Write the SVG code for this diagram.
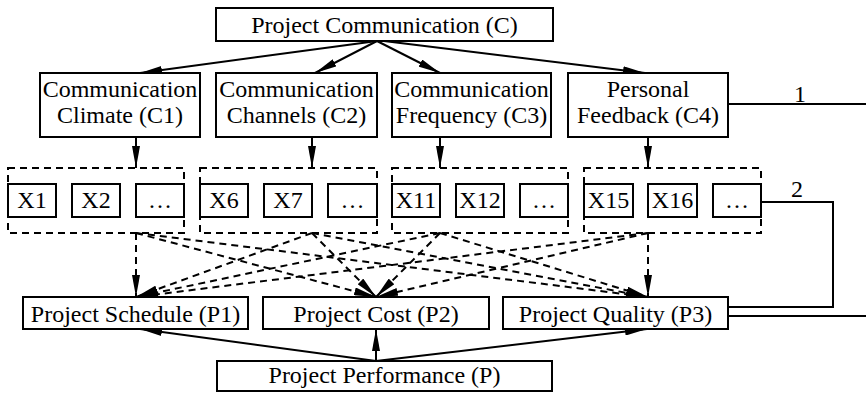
<svg xmlns="http://www.w3.org/2000/svg" width="866" height="393" viewBox="0 0 866 393">
<style>
.box{fill:#fff;stroke:#000;stroke-width:2}
.grp{fill:none;stroke:#000;stroke-width:2;stroke-dasharray:7,5}
.t{font-family:"Liberation Serif","Times New Roman",serif;font-size:24px;fill:#000;text-anchor:middle}
.e{fill:none;stroke:#000;stroke-width:2;marker-end:url(#ah)}
.d{fill:none;stroke:#000;stroke-width:2;stroke-dasharray:7,5;marker-end:url(#ah)}
.l{fill:none;stroke:#000;stroke-width:2}
</style>
<defs>
<marker id="ah" markerUnits="userSpaceOnUse" markerWidth="22" markerHeight="8" refX="22" refY="4" orient="auto" viewBox="0 0 22 8">
<path d="M0,0 L22,4 L0,8 z" fill="#000" stroke="none"/>
</marker>
</defs>

<g id="connectors">
<path class="e" d="M377,41 L140,73"/>
<path class="e" d="M377,41 L315,73"/>
<path class="e" d="M377,41 L440,73"/>
<path class="e" d="M384,41 L645,73"/>
<path class="e" d="M136,137 L136,168"/>
<path class="e" d="M312,137 L312,168"/>
<path class="e" d="M440,137 L440,168"/>
<path class="e" d="M648,137 L648,168"/>
<path class="d" d="M136,233 L136,297"/>
<path class="d" d="M136,233 L376,297"/>
<path class="d" d="M136,233 L648,297"/>
<path class="d" d="M312,233 L136,297"/>
<path class="d" d="M312,233 L376,297"/>
<path class="d" d="M312,233 L648,297"/>
<path class="d" d="M440,233 L136,297"/>
<path class="d" d="M440,233 L376,297"/>
<path class="d" d="M440,233 L648,297"/>
<path class="d" d="M648,233 L136,297"/>
<path class="d" d="M648,233 L376,297"/>
<path class="d" d="M648,233 L648,297"/>
<path class="e" d="M376,361 L140,329"/>
<path class="e" d="M376,361 L376,329"/>
<path class="e" d="M376,361 L647,329"/>
<path class="l" d="M728,104 H866"/>
<text class="t" x="800" y="102">1</text>
<path class="l" d="M761,202 H833 V307 H728"/>
<text class="t" x="797" y="197">2</text>
<path class="l" d="M728,316 H866"/>
</g>

<g id="C">
<rect class="box" x="216" y="8" width="337" height="33"/>
<text class="t" x="384.5" y="33">Project Communication (C)</text>
</g>
<g id="C1">
<rect class="box" x="40" y="73" width="160" height="64"/>
<text class="t" x="120" y="97">Communication</text>
<text class="t" x="120" y="123">Climate (C1)</text>
</g>
<g id="C2">
<rect class="box" x="216" y="73" width="161" height="64"/>
<text class="t" x="296.5" y="97">Communication</text>
<text class="t" x="296.5" y="123">Channels (C2)</text>
</g>
<g id="C3">
<rect class="box" x="392" y="73" width="159" height="64"/>
<text class="t" x="471.5" y="97">Communication</text>
<text class="t" x="471.5" y="123">Frequency (C3)</text>
</g>
<g id="C4">
<rect class="box" x="568" y="73" width="160" height="64"/>
<text class="t" x="648" y="97">Personal</text>
<text class="t" x="648" y="123">Feedback (C4)</text>
</g>

<g id="G1">
<rect class="grp" x="8" y="168" width="176" height="65"/>
<rect class="box" x="8" y="184" width="48" height="33"/><text class="t" x="32" y="208">X1</text>
<rect class="box" x="72" y="184" width="48" height="33"/><text class="t" x="96" y="208">X2</text>
<rect class="box" x="136" y="184" width="48" height="33"/><text class="t" x="160" y="208">…</text>
</g>
<g id="G2">
<rect class="grp" x="200" y="168" width="177" height="65"/>
<rect class="box" x="200" y="184" width="48" height="33"/><text class="t" x="224" y="208">X6</text>
<rect class="box" x="264" y="184" width="48" height="33"/><text class="t" x="288" y="208">X7</text>
<rect class="box" x="328" y="184" width="49" height="33"/><text class="t" x="352.5" y="208">…</text>
</g>
<g id="G3">
<rect class="grp" x="392" y="168" width="176" height="65"/>
<rect class="box" x="392" y="184" width="48" height="33"/><text class="t" x="416" y="208">X11</text>
<rect class="box" x="456" y="184" width="48" height="33"/><text class="t" x="480" y="208">X12</text>
<rect class="box" x="520" y="184" width="48" height="33"/><text class="t" x="544" y="208">…</text>
</g>
<g id="G4">
<rect class="grp" x="584" y="168" width="177" height="65"/>
<rect class="box" x="584" y="184" width="49" height="33"/><text class="t" x="608.5" y="208">X15</text>
<rect class="box" x="648" y="184" width="49" height="33"/><text class="t" x="672.5" y="208">X16</text>
<rect class="box" x="713" y="184" width="48" height="33"/><text class="t" x="737" y="208">…</text>
</g>

<g id="P1">
<rect class="box" x="23" y="297" width="225" height="32"/>
<text class="t" x="135.5" y="322">Project Schedule (P1)</text>
</g>
<g id="P2">
<rect class="box" x="263" y="297" width="226" height="32"/>
<text class="t" x="376" y="322">Project Cost (P2)</text>
</g>
<g id="P3">
<rect class="box" x="503" y="297" width="225" height="32"/>
<text class="t" x="615.5" y="322">Project Quality (P3)</text>
</g>
<g id="P">
<rect class="box" x="217" y="361" width="335" height="30"/>
<text class="t" x="384.5" y="383">Project Performance (P)</text>
</g>
</svg>
